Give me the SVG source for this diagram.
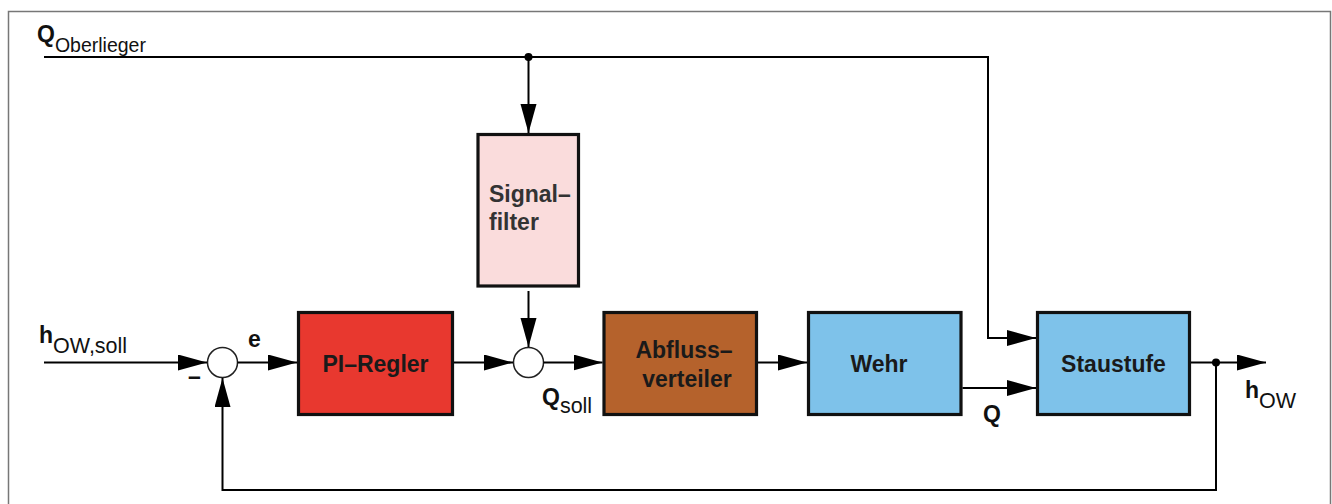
<svg xmlns="http://www.w3.org/2000/svg" width="1332" height="504" viewBox="0 0 1332 504">
<defs>
<marker id="arr" markerUnits="userSpaceOnUse" markerWidth="31" markerHeight="17" refX="29" refY="8" orient="auto">
<path d="M0,0 L29,8 L0,16 z" fill="#000"/>
</marker>
<style>
.box{stroke:#111;stroke-width:3.2}
.lbl{font-family:"Liberation Sans",Arial,sans-serif;font-weight:bold;font-size:23px;fill:#1a1a1a}
.conn line,.conn polyline{fill:none;stroke:#000;stroke-width:2}
.arrow{marker-end:url(#arr)}
.sym{font-family:"Liberation Sans",Arial,sans-serif;fill:#111}
.b{font-weight:bold;font-size:23px}
.s{font-size:21.5px}
</style>
</defs>
<rect x="0" y="0" width="1332" height="504" fill="#fff"/>
<path d="M8.5,504 V11.5 H1330.5 V504" fill="none" stroke="#777" stroke-width="1.5"/>

<g id="node-signalfilter">
<rect class="box" x="478" y="134.5" width="100.5" height="151.5" fill="#fadcdc"/>
<text class="lbl" x="489" y="202" style="fill:#333">Signal–</text>
<text class="lbl" x="489" y="230" style="fill:#333">filter</text>
</g>
<g id="node-pi-regler">
<rect class="box" x="298.5" y="312.5" width="154" height="102" fill="#e8382f"/>
<text class="lbl" x="375.5" y="372" text-anchor="middle">PI–Regler</text>
</g>
<g id="node-abflussverteiler">
<rect class="box" x="604" y="312.5" width="152.5" height="102" fill="#b5622c"/>
<text class="lbl" x="684" y="358" text-anchor="middle">Abfluss–</text>
<text class="lbl" x="687" y="387" text-anchor="middle">verteiler</text>
</g>
<g id="node-wehr">
<rect class="box" x="808.5" y="312.5" width="152.5" height="102" fill="#7ec2ea"/>
<text class="lbl" x="879" y="372" text-anchor="middle">Wehr</text>
</g>
<g id="node-staustufe">
<rect class="box" x="1037.5" y="312.5" width="152" height="102" fill="#7ec2ea"/>
<text class="lbl" x="1113.5" y="372" text-anchor="middle">Staustufe</text>
</g>
<g id="node-sum1">
<circle cx="222.5" cy="362.5" r="15" fill="#fff" stroke="#222" stroke-width="1.5"/>
</g>
<g id="node-sum2">
<circle cx="528.5" cy="362.5" r="15" fill="#fff" stroke="#222" stroke-width="1.5"/>
</g>

<g id="connectors" class="conn">
<polyline class="arrow" points="44,57 988,57 988,338 1036,338"/>
<line class="arrow" x1="528.5" y1="57" x2="528.5" y2="133"/>
<line class="arrow" x1="528.5" y1="291" x2="528.5" y2="347"/>
<line class="arrow" x1="44" y1="362.5" x2="207" y2="362.5"/>
<line class="arrow" x1="237.5" y1="362.5" x2="297" y2="362.5"/>
<line class="arrow" x1="454" y1="362.5" x2="513" y2="362.5"/>
<line class="arrow" x1="543.5" y1="362.5" x2="602.5" y2="362.5"/>
<line class="arrow" x1="758" y1="362.5" x2="807" y2="362.5"/>
<line class="arrow" x1="962.5" y1="388" x2="1036" y2="388"/>
<line class="arrow" x1="1191" y1="362.5" x2="1266" y2="362.5"/>
<polyline class="arrow" points="1216,362.5 1216,490 222.5,490 222.5,378"/>
<circle cx="528.5" cy="57" r="4" fill="#000"/>
<circle cx="1216" cy="362.5" r="4" fill="#000"/>
</g>

<g id="labels">
<text class="sym" x="37" y="42"><tspan class="b">Q</tspan><tspan font-size="19.5" dy="10">Oberlieger</tspan></text>
<text class="sym" x="39" y="343"><tspan class="b">h</tspan><tspan class="s" dy="10">OW,soll</tspan></text>
<text class="sym b" x="248" y="347">e</text>
<text class="sym b" x="188" y="384">–</text>
<text class="sym" x="542" y="405"><tspan class="b">Q</tspan><tspan class="s" dy="8">soll</tspan></text>
<text class="sym b" x="983" y="422">Q</text>
<text class="sym" x="1245" y="398"><tspan class="b">h</tspan><tspan class="s" dy="10">OW</tspan></text>
</g>
</svg>
